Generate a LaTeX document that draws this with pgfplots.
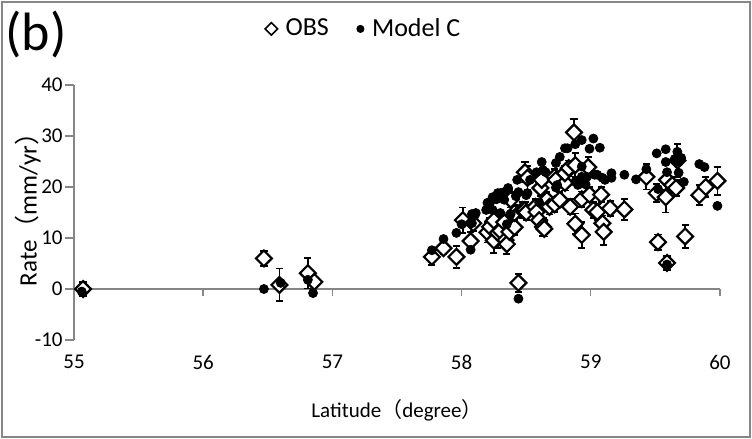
\documentclass[border=0pt]{standalone}
\usepackage{pgfplots}
\usepackage{pgfplotstable}
\pgfplotsset{compat=1.18}
\usepackage{fontspec}
\setmainfont{Carlito}
\newfontfamily\cjk{Noto Sans CJK JP}
\definecolor{axgray}{RGB}{134,134,134}

\pgfplotstableread{
lat rate err
55.07 0.0 1.3
56.47 6.0 1.5
56.59 0.8 3.2
56.81 3.1 3.0
56.86 1.4 1.0
57.77 6.3 1.6
57.86 8.0 1.2
57.96 6.3 2.2
58.01 13.5 2.5
58.07 9.4 1.8
58.09 12.9 1.5
58.20 11.1 2.0
58.22 12.2 1.8
58.25 9.5 2.5
58.25 13.4 1.5
58.28 11.0 3.0
58.30 11.4 1.5
58.33 13.1 1.5
58.34 9.6 1.5
58.35 8.8 2.0
58.37 11.2 1.5
58.38 17.5 1.5
58.41 12.1 1.5
58.41 14.9 1.5
58.44 1.2 1.8
58.47 15.5 1.5
58.49 22.9 2.0
58.49 15.5 1.5
58.50 15.0 1.5
58.51 21.8 2.3
58.57 16.1 1.5
58.58 15.1 1.5
58.60 13.5 1.5
58.61 19.8 1.5
58.62 21.4 1.5
58.63 12.2 1.8
58.64 11.8 1.5
58.66 17.5 1.5
58.68 16.1 1.5
58.72 22.0 1.5
58.72 16.6 1.5
58.73 21.4 1.5
58.76 17.5 1.5
58.80 20.8 1.5
58.80 22.7 1.5
58.83 23.7 1.5
58.84 16.1 1.5
58.87 30.7 2.7
58.88 24.3 2.3
58.88 12.8 2.0
58.93 10.6 2.5
58.93 17.6 1.5
58.99 18.5 1.5
58.98 23.9 2.0
59.02 15.5 1.5
59.05 15.1 1.5
59.08 18.5 1.5
59.09 12.9 1.5
59.10 11.2 2.5
59.15 15.8 1.5
59.26 15.6 2.0
59.43 22.0 2.5
59.51 18.8 1.8
59.58 18.0 3.0
59.59 21.4 2.0
59.63 20.4 1.5
59.66 19.8 1.5
59.67 25.2 3.2
59.84 18.4 2.0
59.89 20.0 2.0
59.98 21.2 2.8
59.52 9.2 1.5
59.73 10.3 2.3
59.59 5.1 1.3
}\obs

\pgfplotstableread{
lat rate
55.06 -0.5
56.47 0.0
56.60 1.2
56.81 1.8
56.85 -0.8
57.77 7.6
57.86 9.8
57.96 11.0
58.00 12.7
58.07 7.7
58.08 14.7
58.08 12.9
58.10 14.4
58.11 14.9
58.19 15.5
58.20 16.9
58.21 16.3
58.22 16.9
58.24 15.5
58.24 18.0
58.27 17.6
58.28 18.8
58.30 14.9
58.30 18.8
58.33 17.5
58.33 19.0
58.35 12.7
58.36 19.5
58.36 19.8
58.38 14.7
58.42 18.2
58.43 21.4
58.44 -1.9
58.44 19.0
58.50 18.4
58.51 18.8
58.53 21.4
58.58 22.9
58.60 17.0
58.62 24.9
58.63 23.3
58.65 22.9
58.73 19.9
58.73 24.7
58.74 20.4
58.76 25.9
58.80 27.6
58.82 27.6
58.88 28.4
58.88 21.0
58.90 20.4
58.93 29.2
58.93 24.0
58.94 21.4
58.93 22.0
58.96 20.5
58.97 22.0
58.99 27.5
59.02 29.5
59.03 22.4
59.05 22.4
59.07 27.7
59.09 21.8
59.11 21.4
59.16 22.7
59.16 21.8
59.26 22.4
59.35 21.5
59.43 23.5
59.51 26.6
59.52 19.6
59.58 27.4
59.58 24.9
59.59 22.9
59.59 4.8
59.65 25.5
59.67 26.9
59.68 24.9
59.68 22.8
59.70 25.7
59.72 21.0
59.84 24.5
59.88 23.9
59.98 16.3
}\model

\begin{document}
\begin{tikzpicture}
\useasboundingbox (0,0) rectangle (376pt,219.5pt);
\draw[axgray, line width=0.7pt] (1pt,1pt) rectangle (375pt,218.5pt);
\node[anchor=north west, inner sep=0pt, font=\fontsize{27}{27}\selectfont] at (2.5pt,214pt) {(b)};
\begin{axis}[
  at={(37pt,49.5pt)}, anchor=south west,
  scale only axis, width=323pt, height=127.5pt,
  xmin=55, xmax=60, ymin=-10, ymax=40,
  xtick={55,56,57,58,59,60}, ytick={-10,0,10,20,30,40},
  axis x line*=bottom, axis y line*=left,
  x axis line style={draw=none},
  y axis line style={axgray, line width=0.7pt},
  xtick style={draw=none},
  ytick style={axgray, line width=0.7pt},
  tick align=outside,
  major tick length=4.5pt,
  tick label style={font=\fontsize{10.5}{12}\selectfont},
  /pgf/number format/assume math mode=true,
  xticklabel style={yshift=0.5pt},
  yticklabel style={anchor=east, inner sep=0pt, xshift=-1pt},
  xlabel={Latitude{\cjk （}degree{\cjk ）}},
  ylabel={Rate{\cjk （}mm/yr{\cjk ）}},
  x label style={font=\fontsize{10.5}{12}\selectfont, at={(axis description cs:0.5,0)}, anchor=center, yshift=-35pt},
  y label style={font=\fontsize{12.5}{14}\selectfont, at={(axis description cs:-0.0712,0.535)}, anchor=center},
  clip=false,
  legend style={draw=none, fill=none, at={(0.45,1.22)}, anchor=center,
    font=\fontsize{13}{15}\selectfont,
    /tikz/every odd column/.append style={column sep=2pt},
    /tikz/every even column/.append style={column sep=12pt}},
  legend columns=2,
]
\draw[axgray, line width=0.7pt] (axis cs:55,0) -- (axis cs:60,0);
\pgfplotsinvokeforeach{56,57,58,59,60}{\draw[axgray, line width=0.7pt] (axis cs:#1,0) -- ++(0pt,-3.5pt);}
\addplot[forget plot, only marks, mark=square*, mark size=2.8pt,
  mark options={rotate=45, draw=black, fill=white, line width=1.1pt},
  error bars/.cd, y dir=both, y explicit,
  error bar style={black, line width=0.9pt},
  error mark options={black, rotate=90, mark size=1.8pt, line width=0.9pt}]
  table[x=lat, y=rate, y error=err]{\obs};
\addplot[forget plot, only marks, mark=*, mark size=2.25pt, black] table[x=lat, y=rate]{\model};
\addlegendimage{only marks, mark=square*, mark size=2.2pt, mark options={rotate=45, draw=black, fill=white, line width=0.8pt}}
\addlegendentry{OBS}
\addlegendimage{only marks, mark=*, mark size=1.8pt, black}
\addlegendentry{Model C}
\end{axis}
\end{tikzpicture}
\end{document}
